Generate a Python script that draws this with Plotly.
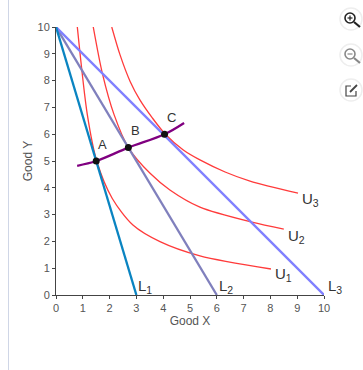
import plotly.graph_objects as go

u1_x = [0.795, 1.17, 1.52, 2.1, 2.87, 3.88, 5.37, 8.02]
u1_y = [10, 6.72, 5.0, 3.6, 2.61, 1.99, 1.46, 0.97]
u2_x = [1.39, 1.73, 2.17, 2.70, 3.51, 4.25, 5.37, 7.31, 8.5]
u2_y = [10, 8.27, 6.72, 5.5, 4.54, 3.92, 3.28, 2.72, 2.46]
u3_x = [2.08, 2.39, 2.77, 3.13, 3.6, 4.07, 4.75, 5.37, 6.31, 7.24, 9.03]
u3_y = [10, 8.96, 7.96, 7.28, 6.6, 6.01, 5.41, 5.04, 4.59, 4.25, 3.8]
path_x = [0.79, 1.5, 2.7, 4.05, 4.78]
path_y = [4.82, 5.0, 5.5, 6.0, 6.42]
l1_x, l1_y = [0, 3], [10, 0]
l2_x, l2_y = [0, 6], [10, 0]
l3_x, l3_y = [0, 10], [10, 0]
point_names = ["A", "B", "C"]
point_x = [1.5, 2.7, 4.05]
point_y = [5.0, 5.5, 6.0]
ticks = list(range(11))

W, H = 363, 370
L, R, T, B = 56, 324, 27, 295
px = lambda v: (v - L) / (R - L)
py = lambda v: (B - v) / (B - T)

fig = go.Figure()
for xs, ys in [(u1_x, u1_y), (u2_x, u2_y), (u3_x, u3_y)]:
    fig.add_trace(go.Scatter(x=xs, y=ys, mode="lines", line=dict(color="#ff3b3b", width=1.3, shape="spline", smoothing=0.8), cliponaxis=False))
for xs, ys, c in [(l2_x, l2_y, "#8080bd"), (l3_x, l3_y, "#8080ff"), (l1_x, l1_y, "#0a84c1")]:
    fig.add_trace(go.Scatter(x=xs, y=ys, mode="lines", line=dict(color=c, width=2.3), cliponaxis=False))
fig.add_trace(go.Scatter(x=path_x, y=path_y, mode="lines", line=dict(color="#800080", width=2.3, shape="spline"), cliponaxis=False))
fig.add_trace(go.Scatter(x=point_x, y=point_y, mode="markers", marker=dict(color="#111111", size=7), cliponaxis=False))

labels = [
    ("L<sub>1</sub>", 3.0, 0.3), ("L<sub>2</sub>", 6.0, 0.3), ("L<sub>3</sub>", 10.08, 0.3),
    ("U<sub>1</sub>", 8.1, 0.75), ("U<sub>2</sub>", 8.6, 2.2), ("U<sub>3</sub>", 9.1, 3.55),
]
ann = [dict(x=x / 10, y=y / 10, xref="paper", yref="paper", text=t, showarrow=False, xanchor="left", yanchor="middle",
            font=dict(size=15, color="#333333")) for t, x, y in labels]
for n, x, y in zip(point_names, point_x, point_y):
    ann.append(dict(x=x + 0.25, y=y + 0.62, text=n, showarrow=False, font=dict(size=13, color="#333333")))

shapes = [dict(type="line", xref="paper", yref="paper", x0=px(8.5), x1=px(8.5), y0=py(0), y1=py(370),
               line=dict(color="#cfd6e6", width=1))]
for cy in (19, 55, 90):
    shapes.append(dict(type="circle", xref="paper", yref="paper", x0=px(340), x1=px(362), y0=py(cy - 11), y1=py(cy + 11),
                       fillcolor="white", line=dict(color="#eeeeee", width=1.5)))
for cy, col in ((19, "#222222"), (55, "#888888")):
    shapes.append(dict(type="circle", xref="paper", yref="paper", x0=px(345), x1=px(355), y0=py(cy - 6), y1=py(cy + 4),
                       line=dict(color=col, width=1.6)))
    shapes.append(dict(type="line", xref="paper", yref="paper", x0=px(354), x1=px(360), y0=py(cy + 3), y1=py(cy + 8),
                       line=dict(color=col, width=2.2)))
    shapes.append(dict(type="line", xref="paper", yref="paper", x0=px(347.5), x1=px(352.5), y0=py(cy - 1), y1=py(cy - 1),
                       line=dict(color=col, width=1.2)))
shapes.append(dict(type="line", xref="paper", yref="paper", x0=px(350), x1=px(350), y0=py(19 - 3.5), y1=py(19 + 1.5),
                   line=dict(color="#222222", width=1.2)))
shapes.append(dict(type="path", xref="paper", yref="paper",
                   path=f"M {px(351)} {py(86)} L {px(346)} {py(86)} L {px(346)} {py(96)} L {px(356)} {py(96)} L {px(356)} {py(91)}",
                   line=dict(color="#444444", width=1.2)))
shapes.append(dict(type="line", xref="paper", yref="paper", x0=px(350), x1=px(357), y0=py(92), y1=py(85),
                   line=dict(color="#444444", width=1.8)))

axis = dict(range=[0, 10], tickvals=ticks, ticks="outside", ticklen=3, tickcolor="#444444", showgrid=False,
            zeroline=False, showline=True, linecolor="#444444", linewidth=1, tickfont=dict(size=11, color="#555555"))
fig.update_layout(
    width=W, height=H, margin=dict(l=L, r=W - R, t=T, b=H - B), showlegend=False,
    paper_bgcolor="white", plot_bgcolor="white", font=dict(family="Liberation Sans, Arial, sans-serif"),
    xaxis=dict(axis, title=dict(text="Good X", font=dict(size=12, color="#555555"), standoff=2)),
    yaxis=dict(axis, title=dict(text="Good Y", font=dict(size=12, color="#555555"), standoff=2)),
    annotations=ann, shapes=shapes,
)
fig.write_html("out.html", config=dict(displayModeBar=False),
               post_script="document.body.style.margin='0';document.documentElement.style.overflow='hidden';")
